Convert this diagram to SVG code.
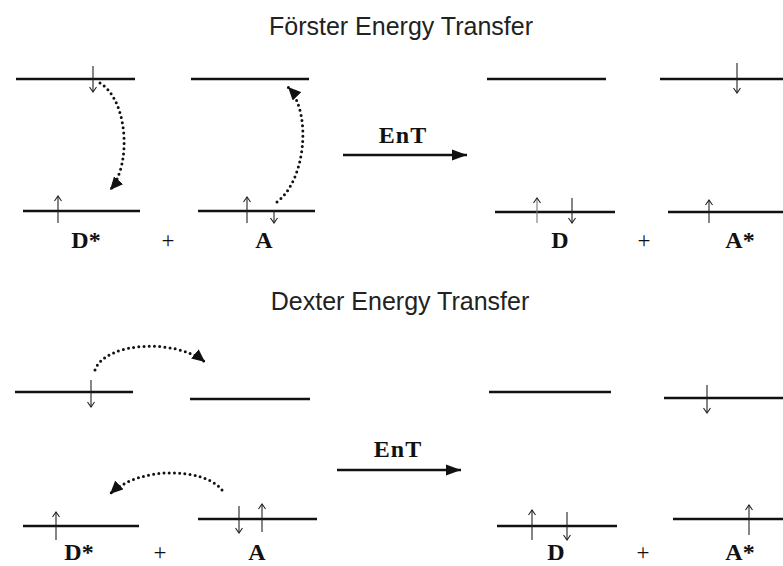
<svg xmlns="http://www.w3.org/2000/svg" width="783" height="566" viewBox="0 0 783 566">
<style>
.lvl{stroke:#111;stroke-width:2.6;fill:none}
.spin{stroke:#222;stroke-width:1.1;fill:none;marker-end:url(#v)}
.faint{stroke:#777}
.dot{stroke:#111;stroke-width:3;fill:none;stroke-linecap:round;stroke-dasharray:0 5.2;marker-end:url(#tri)}
.ent{stroke:#111;stroke-width:2.4;fill:none;marker-end:url(#big)}
.title{font-family:"Liberation Sans",Arial,sans-serif;font-size:25px;fill:#222;text-anchor:middle}
.lab{font-family:"Liberation Serif","Times New Roman",serif;font-weight:bold;font-size:24px;fill:#111;text-anchor:middle}
.ent-t{letter-spacing:1px}
.plus{font-family:"Liberation Serif","Times New Roman",serif;font-size:23px;fill:#111;text-anchor:middle}
</style>
<defs>
<marker id="v" viewBox="-6 -4 7 8" markerWidth="7" markerHeight="8" refX="0" refY="0" orient="auto" markerUnits="userSpaceOnUse">
<path d="M-5,-3.5 L0,0 L-5,3.5" fill="none" stroke="#222" stroke-width="1.1"/>
</marker>
<marker id="tri" viewBox="-13 -6 14 12" markerWidth="14" markerHeight="12" refX="0" refY="0" orient="auto" markerUnits="userSpaceOnUse">
<path d="M-13,-6 L0,0 L-13,6 Z" fill="#111"/>
</marker>
<marker id="big" viewBox="-15 -6 16 12" markerWidth="16" markerHeight="12" refX="0" refY="0" orient="auto" markerUnits="userSpaceOnUse">
<path d="M-15,-5.5 L0,0 L-15,5.5 Z" fill="#111"/>
</marker>
</defs>

<text class="title" x="401" y="35">Förster Energy Transfer</text>
<text class="title" x="400" y="310">Dexter Energy Transfer</text>

<!-- Förster -->
<g id="forster-Dstar">
<line class="lvl" x1="16" y1="79" x2="135" y2="79"/>
<line class="lvl" x1="23" y1="211" x2="140" y2="211"/>
<line class="spin" x1="93" y1="66" x2="93" y2="92"/>
<line class="spin" x1="58" y1="223" x2="58" y2="196"/>
<text class="lab" x="86" y="248">D*</text>
</g>
<text class="plus" x="168" y="248">+</text>
<g id="forster-A">
<line class="lvl" x1="191" y1="79" x2="309" y2="79"/>
<line class="lvl" x1="198" y1="211" x2="315" y2="211"/>
<line class="spin" x1="247" y1="223" x2="247" y2="197"/>
<line class="spin" x1="274" y1="210" x2="274" y2="223"/>
<text class="lab" x="264" y="248">A</text>
</g>
<g id="forster-D">
<line class="lvl" x1="487" y1="79" x2="606" y2="79"/>
<line class="lvl" x1="495" y1="212" x2="615" y2="212"/>
<line class="spin faint" x1="537" y1="223" x2="537" y2="198"/>
<line class="spin" x1="572" y1="198" x2="572" y2="223"/>
<text class="lab" x="560" y="248">D</text>
</g>
<text class="plus" x="644" y="248">+</text>
<g id="forster-Astar">
<line class="lvl" x1="660" y1="79" x2="783" y2="79"/>
<line class="lvl" x1="668" y1="212" x2="783" y2="212"/>
<line class="spin" x1="737" y1="63" x2="737" y2="93"/>
<line class="spin" x1="709" y1="223" x2="709" y2="200"/>
<text class="lab" x="740" y="248">A*</text>
</g>

<!-- Dexter -->
<g id="dexter-Dstar">
<line class="lvl" x1="15" y1="392" x2="133" y2="392"/>
<line class="lvl" x1="23" y1="526" x2="139" y2="526"/>
<line class="spin" x1="91" y1="380" x2="91" y2="407"/>
<line class="spin" x1="56" y1="540" x2="56" y2="512"/>
<text class="lab" x="79" y="560">D*</text>
</g>
<text class="plus" x="160" y="560">+</text>
<g id="dexter-A">
<line class="lvl" x1="190" y1="399" x2="310" y2="399"/>
<line class="lvl" x1="198" y1="519" x2="317" y2="519"/>
<line class="spin" x1="239" y1="506" x2="239" y2="533"/>
<line class="spin" x1="262" y1="532" x2="262" y2="504"/>
<text class="lab" x="257" y="560">A</text>
</g>
<g id="dexter-D">
<line class="lvl" x1="489" y1="392" x2="611" y2="392"/>
<line class="lvl" x1="497" y1="526" x2="617" y2="526"/>
<line class="spin" x1="532" y1="540" x2="532" y2="510"/>
<line class="spin" x1="567" y1="512" x2="567" y2="540"/>
<text class="lab" x="556" y="560">D</text>
</g>
<text class="plus" x="643" y="560">+</text>
<g id="dexter-Astar">
<line class="lvl" x1="664" y1="398" x2="783" y2="398"/>
<line class="lvl" x1="673" y1="519" x2="783" y2="519"/>
<line class="spin" x1="707" y1="385" x2="707" y2="413"/>
<line class="spin" x1="749" y1="535" x2="749" y2="505"/>
<text class="lab" x="740" y="560">A*</text>
</g>

<g id="connectors">
<path class="dot" d="M100,83 C128,100 132,165 110,190"/>
<path class="dot" d="M277,202 C306,180 312,112 288,87"/>
<path class="dot" d="M95,370 C105,342 175,338 205,362"/>
<path class="dot" d="M222,490 C205,468 140,465 110,494"/>
<line class="ent" x1="343" y1="155" x2="467" y2="155"/>
<text class="lab ent-t" x="403" y="143">EnT</text>
<line class="ent" x1="337" y1="470" x2="461" y2="470"/>
<text class="lab ent-t" x="398" y="457">EnT</text>
</g>
</svg>
